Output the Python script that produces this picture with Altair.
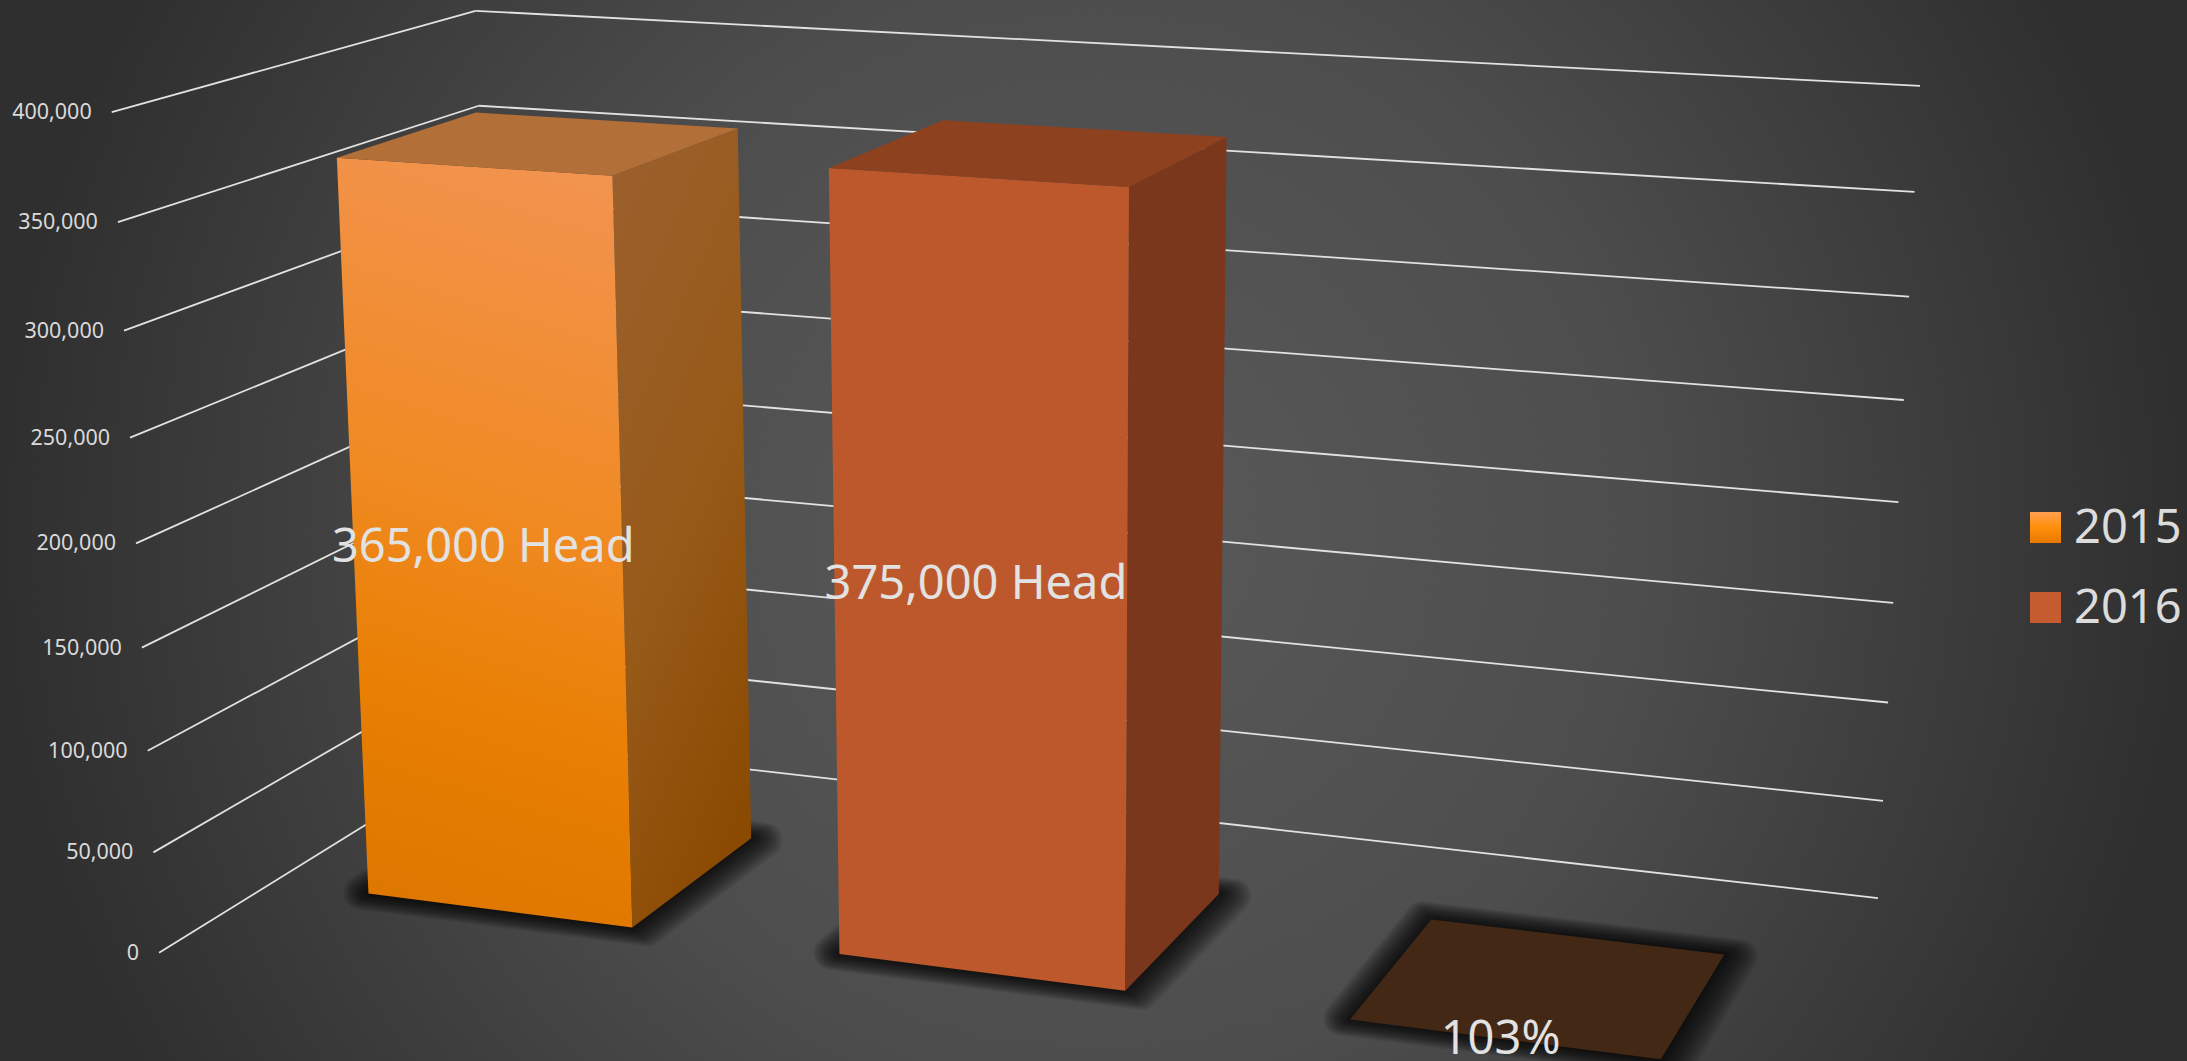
import altair as alt
import numpy as np
import pandas as pd

# Series values
years = ["2015", "2016"]
head_counts = [365000, 375000]
growth_ratio = 1.03
tick_values = [0, 50000, 100000, 150000, 200000, 250000, 300000, 350000, 400000]
axis_max = 400000

# 3D box geometry in chart units: one slot per column, depth runs 0 (back) to 1 (front)
slot_left, slot_right = 0.21, 0.78
depth_back, depth_front = 0.295, 0.695

# Camera fitted to the wall corners: (slot, value share, depth) -> canvas position
wall_world = [(0, 0, 0), (3, 0, 0), (0, 1, 0), (3, 1, 0), (0, 0, 1), (0, 1, 1)]
wall_screen = [(505, 741), (1877, 898), (471, 11), (1921, 86), (155, 953), (116, 112)]

CANVAS_W, CANVAS_H = 2187, 1061
rows = []
for (wx, wy, wz), (u, v) in zip(wall_world, wall_screen):
    rows.append([wx, wy, wz, 1, 0, 0, 0, 0, -u * wx, -u * wy, -u * wz, -u])
    rows.append([0, 0, 0, 0, wx, wy, wz, 1, -v * wx, -v * wy, -v * wz, -v])
camera = np.linalg.svd(np.array(rows, float))[2][-1].reshape(3, 4)


def project(slot, value, depth):
    h = camera @ np.array([slot, value / axis_max, depth, 1.0])
    return float(h[0] / h[2]), float(h[1] / h[2])


x_scale = alt.Scale(domain=[0, CANVAS_W], range=[0, CANVAS_W])
y_scale = alt.Scale(domain=[0, CANVAS_H], range=[0, CANVAS_H])
X = alt.X("x:Q", scale=x_scale, axis=None)
Y = alt.Y("y:Q", scale=y_scale, axis=None)


def polygon(points, **mark):
    """Closed outline drawn as an ordered line with a fill."""
    closed = list(points) + [points[0], points[1]]
    table = pd.DataFrame(
        {"x": [p[0] for p in closed], "y": [p[1] for p in closed], "i": range(len(closed))}
    )
    return alt.Chart(table).mark_line(strokeJoin="round", **mark).encode(
        x=X, y=Y, order=alt.Order("i:Q")
    )


def gradient(stops, x1=0.5, y1=0.0, x2=0.5, y2=1.0):
    return alt.LinearGradient(
        gradient="linear",
        stops=[alt.GradientStop(offset=o, color=c) for o, c in stops],
        x1=x1, y1=y1, x2=x2, y2=y2,
    )


layers = []

# Backdrop: a circular glow, square so the falloff is even in both directions
glow = alt.RadialGradient(
    gradient="radial",
    stops=[
        alt.GradientStop(offset=0, color="#5a5a5a"),
        alt.GradientStop(offset=0.5, color="#4d4d4d"),
        alt.GradientStop(offset=1, color="#2f2f2f"),
    ],
    x1=0.5, y1=0.5, x2=0.5, y2=0.5, r1=0, r2=0.5,
)
layers.append(
    alt.Chart(pd.DataFrame({"k": [0]})).mark_rect(fill=glow).encode(
        x=alt.value(0), x2=alt.value(CANVAS_W),
        y=alt.value(-(CANVAS_W - CANVAS_H) / 2), y2=alt.value((CANVAS_W + CANVAS_H) / 2),
    )
)

# Gridlines along the side wall and the back wall
segments = []
for tick in tick_values:
    a, b, c = project(0, tick, 1), project(0, tick, 0), project(3, tick, 0)
    segments.append({"x": a[0], "y": a[1], "x2": b[0], "y2": b[1]})
    segments.append({"x": b[0], "y": b[1], "x2": c[0], "y2": c[1]})
layers.append(
    alt.Chart(pd.DataFrame(segments)).mark_rule(color="#e2e2e2", strokeWidth=1.8).encode(
        x=X, y=Y, x2="x2:Q", y2="y2:Q"
    )
)

# Value axis labels beside the front end of each side-wall line
tick_table = pd.DataFrame(
    [{"x": project(0, t, 1)[0], "y": project(0, t, 1)[1], "label": f"{t:,}"} for t in tick_values]
)
layers.append(
    alt.Chart(tick_table).mark_text(
        align="right", baseline="middle", dx=-20, dy=1, fontSize=21.5, font="Noto Sans", color="#d9d9d9"
    ).encode(x=X, y=Y, text="label:N")
)

# Columns, back to front in slot order
values = head_counts + [growth_ratio]
styles = [
    {
        "front": gradient(
            [(0, "#F2934E"), (0.45, "#F08A22"), (0.72, "#E97F03"), (1, "#DE7700")],
            x1=0.56, x2=0.44,
        ),
        "side": gradient([(0, "#9B5F2B"), (0.5, "#975A18"), (1, "#8A4900")], x1=0.3, x2=0.7),
        "top": "#B36F38",
    },
    {"front": "#BC582B", "side": "#7A371B", "top": "#8E411F"},
    {"front": "#432815", "side": "#432815", "top": "#432815"},
]


def corners(i, value):
    l, r = i + slot_left, i + slot_right
    return {
        "flb": project(l, 0, depth_front), "frb": project(r, 0, depth_front),
        "brb": project(r, 0, depth_back), "blb": project(l, 0, depth_back),
        "flt": project(l, value, depth_front), "frt": project(r, value, depth_front),
        "brt": project(r, value, depth_back), "blt": project(l, value, depth_back),
    }


# Soft contact shadows: footprints shifted a little to the right, with outlines
# that widen step by step so the corners come out rounded and the edge fades
for i in range(len(values)):
    l, r = i + slot_left, i + slot_right
    for grow in np.linspace(0.0, 1.0, 16):
        foot = [
            project(l - 0.018 * grow, 0, depth_front),
            project(r + 0.032 * grow, 0, depth_front),
            project(r + 0.032 * grow, 0, depth_back),
            project(l - 0.018 * grow, 0, depth_back),
        ]
        layers.append(
            polygon(foot, fill="black", stroke="black", strokeWidth=3 + 31 * grow, opacity=0.066)
        )

for i, value in enumerate(values):
    c = corners(i, value)
    s = styles[i]
    layers.append(polygon([c["frb"], c["brb"], c["brt"], c["frt"]], fill=s["side"], strokeOpacity=0))
    layers.append(polygon([c["flb"], c["frb"], c["frt"], c["flt"]], fill=s["front"], strokeOpacity=0))
    layers.append(polygon([c["flt"], c["frt"], c["brt"], c["blt"]], fill=s["top"], strokeOpacity=0))

# Value labels at the middle of each column's front face
label_rows = []
for i, value in enumerate(values):
    px, py = project(i + (slot_left + slot_right) / 2, value / 2, depth_front)
    text = f"{value:,} Head" if value > 10 else f"{round(value * 100)}%"
    label_rows.append({"x": px - 3, "y": py + 1, "label": text})
layers.append(
    alt.Chart(pd.DataFrame(label_rows)).mark_text(
        align="center", baseline="middle", fontSize=47, font="Noto Sans", color="#e2e2e2"
    ).encode(x=X, y=Y, text="label:N")
)

# Legend on the right
legend_rows = pd.DataFrame({
    "x": [2030, 2030], "x2": [2061, 2061], "y": [512, 592], "y2": [543, 623],
})
swatch_fills = [
    gradient([(0, "#FF9F50"), (0.5, "#FF8F0A"), (1, "#E87800")]),
    "#C55C30",
]
for row, fill in zip(legend_rows.to_dict("records"), swatch_fills):
    layers.append(
        alt.Chart(pd.DataFrame([row])).mark_rect(fill=fill).encode(x=X, x2="x2:Q", y=Y, y2="y2:Q")
    )
legend_text = pd.DataFrame({"x": [2074, 2074], "y": [529, 609], "label": years})
layers.append(
    alt.Chart(legend_text).mark_text(
        align="left", baseline="middle", fontSize=47, font="Noto Sans", color="#dcdcdc"
    ).encode(x=X, y=Y, text="label:N")
)

chart = alt.layer(*layers).properties(
    width=CANVAS_W, height=CANVAS_H, padding=0, autosize="none", background="#2f2f2f"
).configure_view(stroke=None)
chart.save("out.html", embed_options={"renderer": "svg", "actions": False})
